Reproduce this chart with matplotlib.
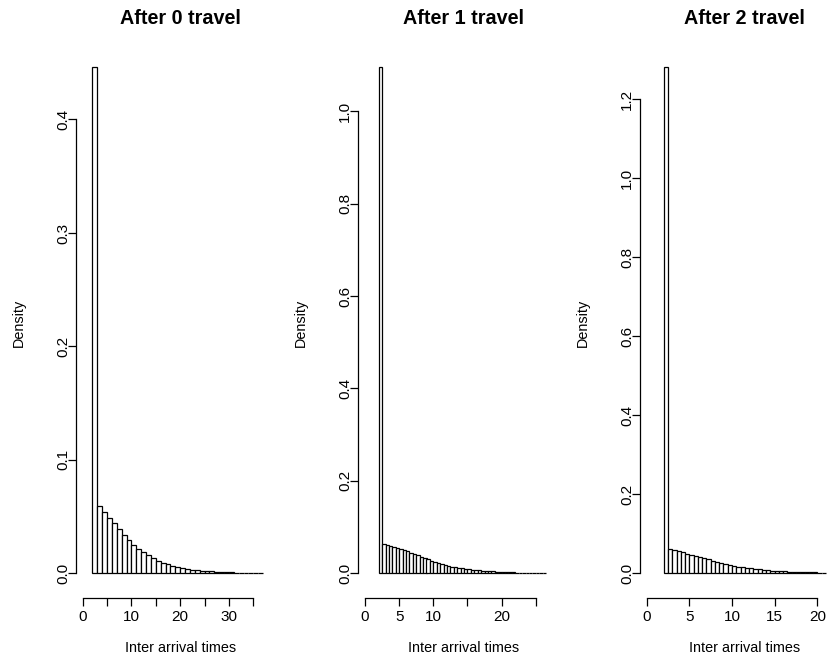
import numpy as np
import matplotlib
matplotlib.use("Agg")
import matplotlib.pyplot as plt

plt.rcParams['font.family'] = ['Liberation Sans', 'DejaVu Sans']

# ---- histogram data: left edge of first bin, bin width, densities ----
titles = ["After 0 travel", "After 1 travel", "After 2 travel"]

start0, width0 = 2.0, 1.0
dens0 = [0.446, 0.059, 0.054, 0.049, 0.0440, 0.0390, 0.0340, 0.0295, 0.0252,
         0.0216, 0.0186, 0.0157, 0.0133, 0.0112, 0.0095, 0.0080, 0.0066,
         0.0055, 0.0045, 0.0037, 0.0030, 0.0026, 0.0022, 0.0019, 0.0016,
         0.0013, 0.0011, 0.0009, 0.0008, 0.0007, 0.0006, 0.0005, 0.0004,
         0.0004, 0.0003]

start1, width1 = 2.0, 0.5
dens1 = [1.095, 0.063, 0.061, 0.059, 0.057, 0.055, 0.053, 0.050, 0.048,
         0.045, 0.042, 0.039, 0.036, 0.033, 0.030, 0.027, 0.0245, 0.022,
         0.020, 0.018, 0.016, 0.0145, 0.013, 0.0118, 0.0107, 0.0096, 0.0087,
         0.0078, 0.0070, 0.0062, 0.0055, 0.0049, 0.0044, 0.0039, 0.0035,
         0.0031, 0.0028, 0.0025, 0.0022, 0.0019, 0.0017, 0.0015, 0.0013,
         0.0011, 0.0010, 0.0009, 0.0008, 0.0007, 0.0006]

start2, width2 = 2.0, 0.5
dens2 = [1.281, 0.061, 0.058, 0.056, 0.053, 0.050, 0.047, 0.044, 0.041,
         0.038, 0.035, 0.032, 0.029, 0.026, 0.023, 0.021, 0.019, 0.017,
         0.0155, 0.014, 0.0125, 0.011, 0.0098, 0.0088, 0.0078, 0.0070,
         0.0062, 0.0055, 0.0049, 0.0043, 0.0038, 0.0034, 0.0030, 0.0027,
         0.0024, 0.0021, 0.0019, 0.0017]

xtick_sets = [[0, 5, 10, 15, 20, 25, 30, 35],
              [0, 5, 10, 15, 20, 25],
              [0, 5, 10, 15, 20]]
xlabel_sets = [[0, 10, 20, 30], [0, 5, 10, 20], [0, 5, 10, 15, 20]]
ytick_sets = [[0.0, 0.1, 0.2, 0.3, 0.4],
              [0.0, 0.2, 0.4, 0.6, 0.8, 1.0],
              [0.0, 0.2, 0.4, 0.6, 0.8, 1.0, 1.2]]

panels = [(start0, width0, dens0), (start1, width1, dens1), (start2, width2, dens2)]

W, H = 827, 660
fig = plt.figure(figsize=(W / 100, H / 100), dpi=100)

# plot-region geometry (pixels): left edge, data value at left edge, px per unit
lefts = [75.9, 358.2, 639.9]
x_at_left = [-1.4, -1.0, -0.8]
px_per_unit = [4.875, 6.83, 8.53]
reg_w = 210.0
top_px, bot_px = 47.0, 598.3
zero_px, peak_px = 573.3, 67.3
reg_h = bot_px - top_px

for i, (start, width, dens) in enumerate(panels):
    dens = np.asarray(dens)
    edges = start + width * np.arange(len(dens) + 1)
    ax = fig.add_axes([lefts[i] / W, 1 - bot_px / H, reg_w / W, reg_h / H])

    ax.bar(edges[:-1], dens, width=np.diff(edges), align='edge',
           facecolor='white', edgecolor='black', linewidth=0.9)

    ax.set_xlim(x_at_left[i], x_at_left[i] + reg_w / px_per_unit[i])
    k = (zero_px - peak_px) / dens.max()
    ax.set_ylim(-(bot_px - zero_px) / k, (zero_px - top_px) / k)

    for s in ['top', 'right']:
        ax.spines[s].set_visible(False)
    ax.spines['left'].set_bounds(ytick_sets[i][0], ytick_sets[i][-1])
    ax.spines['bottom'].set_bounds(xtick_sets[i][0], xtick_sets[i][-1])
    for s in ['left', 'bottom']:
        ax.spines[s].set_linewidth(0.9)

    ax.set_xticks(xtick_sets[i])
    ax.set_xticklabels([str(t) if t in xlabel_sets[i] else '' for t in xtick_sets[i]])
    ax.set_yticks(ytick_sets[i])
    ax.set_yticklabels([f"{t:.1f}" for t in ytick_sets[i]], rotation=90, va='center')
    ax.tick_params(axis='both', direction='out', length=5.8, width=0.9,
                   labelsize=11)
    ax.tick_params(axis='x', pad=2.5)
    ax.tick_params(axis='y', pad=-1.5)

    ax.set_title(titles[i], fontsize=14.2, fontweight='bold', va='center',
                 y=1 + (top_px - 18) / reg_h, pad=0)

    ax.set_xlabel("Inter arrival times", fontsize=10.4)
    ax.xaxis.set_label_coords(0.5, -(648 - bot_px) / reg_h)
    ax.xaxis.label.set_va('center')
    ax.set_ylabel("Density", fontsize=10.4)
    ax.yaxis.set_label_coords(-57.5 / reg_w, 0.5)
    ax.yaxis.label.set_va('center')

fig.savefig("out.png", dpi=100)
